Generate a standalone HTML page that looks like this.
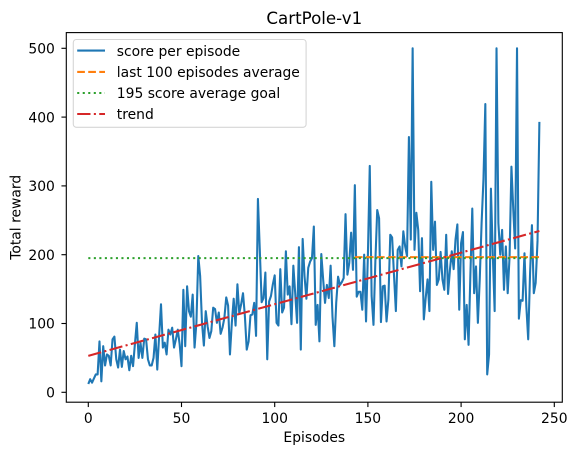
<!DOCTYPE html>
<html>
<head>
<meta charset="utf-8">
<title>CartPole-v1</title>
<style>
html,body{margin:0;padding:0;background:#fff;width:577px;height:455px;overflow:hidden}
svg{display:block}
text{font-family:"DejaVu Sans","Liberation Sans",sans-serif;fill:#000}
</style>
</head>
<body>
<svg id="chart" xmlns="http://www.w3.org/2000/svg" width="577" height="455" viewBox="0 0 577 455">
  <text x="314.3" y="24" font-size="16.67" text-anchor="middle">CartPole-v1</text>
  <g id="marks"></g>
  <g id="axes"></g>
  <text x="314.3" y="442" font-size="13.89" text-anchor="middle">Episodes</text>
  <text transform="translate(20.5 217.3) rotate(-90)" font-size="13.89" text-anchor="middle">Total reward</text>
  <g>
    <rect x="73.3" y="39.5" width="232.8" height="87.8" rx="3" ry="3" fill="#fff" fill-opacity="0.8" stroke="#d6d6d6" stroke-width="1.1"/>
    <g>
      <line x1="77.2" x2="105" y1="50.6" y2="50.6" stroke="#1f77b4" stroke-width="2.08"/>
      <text x="116.8" y="56" font-size="13.89">score per episode</text>
    </g>
    <g>
      <line x1="77.2" x2="105" y1="71.9" y2="71.9" stroke="#ff7f0e" stroke-width="2.08" stroke-dasharray="7.7 3.33"/>
      <text x="116.8" y="77" font-size="13.89">last 100 episodes average</text>
    </g>
    <g>
      <line x1="77.2" x2="105" y1="93" y2="93" stroke="#2ca02c" stroke-width="2.08" stroke-dasharray="2.08 3.44"/>
      <text x="116.8" y="98" font-size="13.89">195 score average goal</text>
    </g>
    <g>
      <line x1="77.2" x2="105" y1="114" y2="114" stroke="#d62728" stroke-width="2.08" stroke-dasharray="13.3 3.33 2.08 3.33"/>
      <text x="116.8" y="119" font-size="13.89">trend</text>
    </g>
  </g>
</svg>
<script>
const scores = [
12,19,14,20,26,26,74,16,67,39,
55,53,39,77,81,48,36,62,37,60,
48,52,32,53,38,70,101,50,72,50,
78,77,48,39,39,50,84,33,82,128,
65,72,55,91,84,94,65,77,91,70,
38,149,67,154,118,110,142,65,101,198,
169,101,68,118,96,79,89,123,121,101,
116,85,94,108,138,126,55,101,136,97,
157,115,128,144,111,62,74,112,113,130,
82,281,207,131,137,174,48,132,140,157,
170,101,97,179,116,123,205,142,154,99,
184,144,101,211,62,223,169,136,181,190,
195,241,98,127,74,201,164,130,156,137,
184,110,67,130,168,156,160,166,259,171,
188,232,178,301,139,146,146,120,200,103,
200,329,140,98,190,265,253,102,154,155,
103,135,229,225,170,118,207,212,183,234,
212,198,371,222,500,207,261,236,147,224,
106,137,164,118,306,207,248,156,164,204,
164,149,229,143,178,205,179,222,244,120,
217,233,77,127,69,173,267,144,183,101,
164,246,310,419,26,55,296,200,118,500,
246,200,236,149,212,144,197,328,265,209,
500,107,134,133,202,125,77,173,243,144,
159,220,393];
const averageEpisodes = [143, 242];
const averageValues = [196.5, 196.5];
const goalEpisodes = [0, 242];
const goalValues = [195, 195];
const trendEpisodes = [0, 242];
const trendValues = [53, 234.5];
const xTicks = [0, 50, 100, 150, 200, 250];
const yTicks = [0, 100, 200, 300, 400, 500];

const NS = 'http://www.w3.org/2000/svg';
const plot = {left: 66.3, right: 562.3, top: 32.6, bottom: 402.2};
function xAxis(v) { return 88.3 + v * 1.864; }
function yAxis(v) { return 392.3 - v * 0.688; }
function points(xs, ys) {
  return xs.map(function (x, i) { return xAxis(x).toFixed(2) + ',' + yAxis(ys[i]).toFixed(2); }).join(' ');
}
function polyline(parent, xs, ys, color, dash) {
  const el = document.createElementNS(NS, 'polyline');
  el.setAttribute('points', points(xs, ys));
  el.setAttribute('fill', 'none');
  el.setAttribute('stroke', color);
  el.setAttribute('stroke-width', '2.08');
  el.setAttribute('stroke-linejoin', 'round');
  if (dash) el.setAttribute('stroke-dasharray', dash);
  parent.appendChild(el);
  return el;
}
const marks = document.getElementById('marks');
const axes = document.getElementById('axes');
const episodes = scores.map(function (_, i) { return i; });

const scoreLine = polyline(marks, episodes, scores, '#1f77b4');


const averageLine = polyline(marks, averageEpisodes, averageValues, '#ff7f0e', '7.7 3.33');


const goalLine = polyline(marks, goalEpisodes, goalValues, '#2ca02c', '2.08 3.44');


const trendLine = polyline(marks, trendEpisodes, trendValues, '#d62728', '13.3 3.33 2.08 3.33');



const frame = document.createElementNS(NS, 'rect');
frame.setAttribute('x', plot.left);
frame.setAttribute('y', plot.top);
frame.setAttribute('width', plot.right - plot.left);
frame.setAttribute('height', plot.bottom - plot.top);
frame.setAttribute('fill', 'none');
frame.setAttribute('stroke', '#000');
frame.setAttribute('stroke-width', '1.11');


axes.appendChild(frame);

xTicks.forEach(function (t) {
  const tick = document.createElementNS(NS, 'line');
  tick.setAttribute('x1', xAxis(t));
  tick.setAttribute('x2', xAxis(t));
  tick.setAttribute('y1', plot.bottom);
  tick.setAttribute('y2', plot.bottom + 4.86);
  tick.setAttribute('stroke', '#000');
  tick.setAttribute('stroke-width', '1.11');
  
  
  axes.appendChild(tick);
  const label = document.createElementNS(NS, 'text');
  label.setAttribute('x', xAxis(t));
  label.setAttribute('y', 423.2);
  label.setAttribute('font-size', '13.89');
  label.setAttribute('text-anchor', 'middle');
  
  
  label.textContent = String(t);
  axes.appendChild(label);
});
yTicks.forEach(function (t) {
  const tick = document.createElementNS(NS, 'line');
  tick.setAttribute('x1', plot.left - 4.86);
  tick.setAttribute('x2', plot.left);
  tick.setAttribute('y1', yAxis(t));
  tick.setAttribute('y2', yAxis(t));
  tick.setAttribute('stroke', '#000');
  tick.setAttribute('stroke-width', '1.11');
  
  
  axes.appendChild(tick);
  const label = document.createElementNS(NS, 'text');
  label.setAttribute('x', 54.9);
  label.setAttribute('y', yAxis(t) + 5.2);
  label.setAttribute('font-size', '13.89');
  label.setAttribute('text-anchor', 'end');
  
  
  label.textContent = String(t);
  axes.appendChild(label);
});
</script>
</body>
</html>
